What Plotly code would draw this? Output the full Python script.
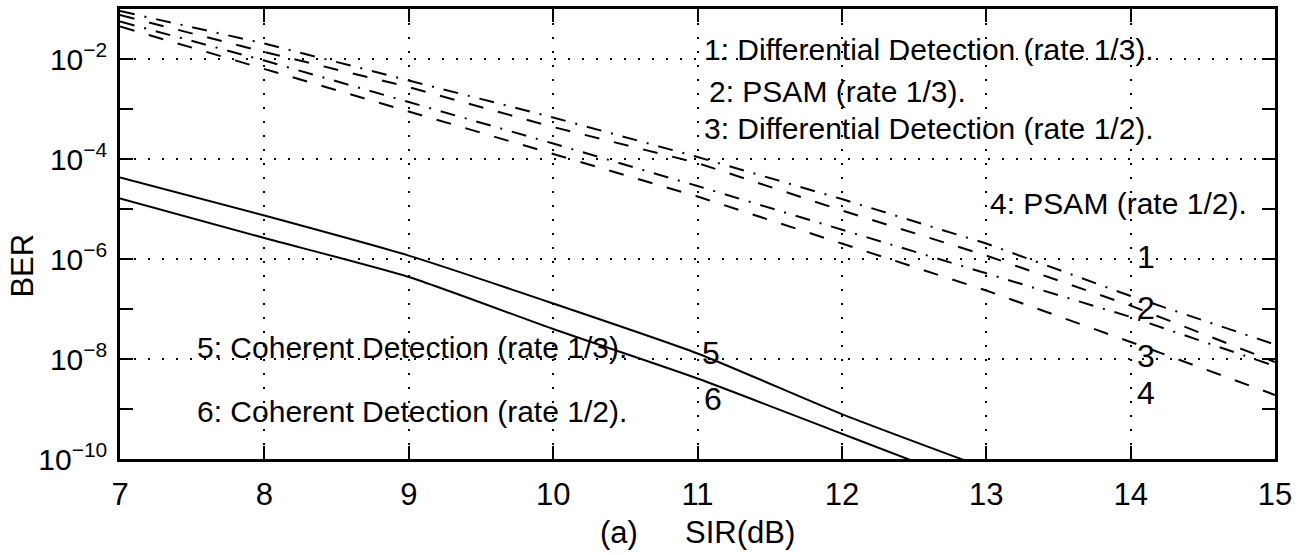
import plotly.graph_objects as go

# ---- data ----
sir_db = [7, 8, 9, 10, 11, 12, 13, 14, 15]
ber_dd_13 = [9.12e-2, 2.04e-2, 3.72e-3, 6.76e-4, 1.10e-4, 1.58e-5, 2.04e-6, 1.82e-7, 1.95e-8]    # 1
ber_psam_13 = [7.59e-2, 1.38e-2, 2.75e-3, 4.37e-4, 8.32e-5, 9.33e-6, 1.17e-6, 1.17e-7, 8.7e-9]  # 2
ber_dd_12 = [5.62e-2, 9.3e-3, 1.38e-3, 2.04e-4, 2.88e-5, 3.89e-6, 5.13e-7, 6.92e-8, 7.24e-9]    # 3
ber_psam_12 = [4.47e-2, 6.3e-3, 9.12e-4, 1.29e-4, 1.78e-5, 2.04e-6, 2.34e-7, 2.19e-8, 1.91e-9]  # 4

sir_coh = [7, 8, 9, 10, 11, 12, 13]
ber_coh_13 = [4.27e-5, 7.41e-6, 1.17e-6, 1.29e-7, 1.29e-8, 7.9e-10, 6.5e-11]  # 5
ber_coh_12 = [1.62e-5, 2.63e-6, 4.37e-7, 3.98e-8, 4.07e-9, 3.2e-10, 2.5e-11]  # 6

x_ticks = [7, 8, 9, 10, 11, 12, 13, 14, 15]
y_major = [1e-10, 1e-8, 1e-6, 1e-4, 1e-2]
y_major_text = ["10<sup>\u221210</sup>", "10<sup>\u22128</sup>", "10<sup>\u22126</sup>",
                "10<sup>\u22124</sup>", "10<sup>\u22122</sup>"]
y_minor = [1e-9, 1e-7, 1e-5, 1e-3]

legend_texts = ["1: Differential Detection (rate 1/3).", "2: PSAM (rate 1/3).",
                "3: Differential Detection (rate 1/2).", "4: PSAM (rate 1/2).",
                "5: Coherent Detection (rate 1/3).", "6: Coherent Detection (rate 1/2)."]

FONT = "Liberation Sans, Arial, Helvetica, sans-serif"
DASHDOT = "15px,10px,2px,10px"
DASHED = "15px,15px"

fig = go.Figure()
series = [
    (sir_db, ber_dd_13, DASHDOT, "linear"),
    (sir_db, ber_psam_13, DASHED, "linear"),
    (sir_db, ber_dd_12, DASHDOT, "linear"),
    (sir_db, ber_psam_12, DASHED, "linear"),
    (sir_coh, ber_coh_13, "solid", "spline"),
    (sir_coh, ber_coh_12, "solid", "spline"),
]
for xs, ys, dash, shape in series:
    fig.add_trace(go.Scatter(x=xs, y=ys, mode="lines",
                             line=dict(color="black", width=2, dash=dash, shape=shape,
                                       smoothing=0.6),
                             showlegend=False, hoverinfo="skip"))

ann = []
def add_text(txt, x, y, size=30, **kw):
    d = dict(text=txt, x=x, y=y, xref="x", yref="y", showarrow=False,
             xanchor="left", yanchor="middle", font=dict(family=FONT, size=size, color="black"))
    d.update(kw)
    ann.append(d)

add_text(legend_texts[0], 11.03, -1.80)
add_text(legend_texts[1], 11.065, -2.65)
add_text(legend_texts[2], 11.03, -3.38)
add_text(legend_texts[3], 13.01, -4.89)
add_text(legend_texts[4], 7.52, -7.76)
add_text(legend_texts[5], 7.52, -9.05)
for lab, yy in zip(["1", "2", "3", "4"], [-5.95, -6.98, -7.93, -8.67]):
    add_text(lab, 14.03, yy, size=32)
add_text("5", 11.02, -7.87, size=32)
add_text("6", 11.03, -8.79, size=32)

# axis titles
ann.append(dict(text="(a)", x=10.456, y=-0.163, xref="x", yref="paper", showarrow=False,
                xanchor="center", yanchor="middle", font=dict(family=FONT, size=31, color="black")))
ann.append(dict(text="SIR(dB)", x=11.294, y=-0.163, xref="x", yref="paper", showarrow=False,
                xanchor="center", yanchor="middle", font=dict(family=FONT, size=31, color="black")))
ann.append(dict(text="BER", x=-0.0848, y=0.43, xref="paper", yref="paper", showarrow=False,
                textangle=-90, xanchor="center", yanchor="middle",
                font=dict(family=FONT, size=31, color="black")))

fig.update_layout(
    width=1306, height=555,
    margin=dict(l=120, r=31, t=6, b=96),
    paper_bgcolor="white", plot_bgcolor="white",
    annotations=ann,
    xaxis=dict(range=[7, 15], tickvals=x_ticks, ticktext=[str(v) for v in x_ticks],
               ticks="inside", ticklen=13, tickwidth=1.5, tickcolor="black",
               showline=True, linewidth=2.5, linecolor="black", mirror="allticks",
               showgrid=True, gridcolor="black", gridwidth=1.5, griddash="2px,12px",
               zeroline=False, ticklabelstandoff=6,
               tickfont=dict(family=FONT, size=31, color="black")),
    yaxis=dict(type="log", range=[-10, -1], tickvals=y_major, ticktext=y_major_text,
               ticks="inside", ticklen=13, tickwidth=1.5, tickcolor="black",
               showline=True, linewidth=2.5, linecolor="black", mirror="allticks",
               showgrid=True, gridcolor="black", gridwidth=1.5, griddash="2px,12px",
               zeroline=False, ticklabelstandoff=4,
               minor=dict(tickvals=y_minor, ticks="inside", ticklen=13, tickwidth=1.5,
                          tickcolor="black", showgrid=False),
               tickfont=dict(family=FONT, size=30, color="black")),
)

fig.write_html("out.html")
